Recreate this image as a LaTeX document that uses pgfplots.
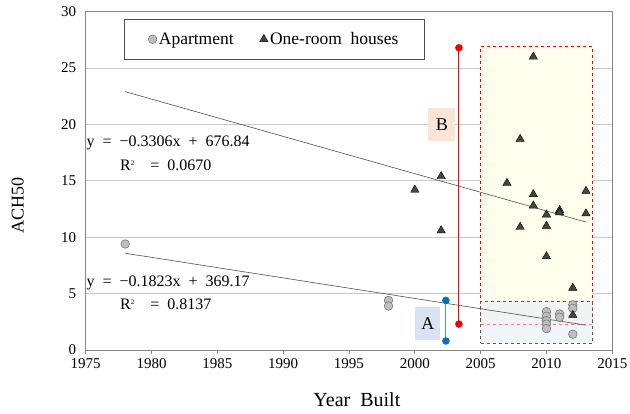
\documentclass[border=0pt]{standalone}
\usepackage{fontspec}
\setmainfont{Liberation Serif}
\usepackage{pgfplots}
\pgfplotsset{compat=1.18}
\definecolor{gridc}{RGB}{200,200,200}
\definecolor{axisc}{RGB}{134,134,134}
\definecolor{trend}{RGB}{80,80,80}
\definecolor{aptfill}{RGB}{190,190,190}
\definecolor{aptdraw}{RGB}{120,120,120}
\definecolor{tri}{RGB}{70,70,60}
\definecolor{yelfill}{RGB}{255,255,238}
\definecolor{bluefill}{RGB}{228,236,250}
\definecolor{myblue}{RGB}{0,112,192}
\definecolor{bluel}{RGB}{80,150,215}
\definecolor{myred}{RGB}{240,0,0}
\definecolor{labA}{RGB}{218,227,243}
\definecolor{labB}{RGB}{251,229,214}
\begin{document}
\begin{tikzpicture}
\path[use as bounding box] (0,0) rectangle (630pt,414pt);
\begin{axis}[
  at={(85.7pt,64pt)}, anchor=south west,
  width=526.6pt, height=338.3pt, scale only axis,
  xmin=1975, xmax=2015, ymin=0, ymax=30,
  xtick={1975,1980,...,2015}, ytick={0,5,...,30},
  ymajorgrids, grid style={gridc, line width=0.8pt},
  axis line style={axisc, line width=0.8pt},
  xtick pos=bottom, ytick pos=left,
  tick align=outside, major tick length=4pt,
  x tick style={axisc, line width=0.8pt}, y tick style={draw=none},
  /pgf/number format/assume math mode=true,
  /pgf/number format/1000 sep={},
  xticklabel style={font=\fontsize{15}{17}\selectfont, yshift=-1pt},
  yticklabel style={font=\fontsize{15}{17}\selectfont, xshift=-2pt},
  xlabel={Year\ \ Built},
  xlabel style={font=\fontsize{20}{23}\selectfont, at={(axis description cs:0.515,-0.148)}, anchor=center},
  ylabel={ACH50},
  ylabel style={font=\fontsize{18}{21}\selectfont, at={(axis description cs:-0.129,0.426)}, anchor=center},
  clip=false,
  legend columns=2,
  legend style={at={(rel axis cs:0.0727,0.978)}, anchor=north west,
    draw=black!70, line width=0.6pt, font=\fontsize{17.5}{19}\selectfont,
    inner xsep=24pt, inner ysep=11pt,
    /tikz/every even column/.append style={column sep=24pt}},
  legend image code/.code={\draw[#1] plot coordinates {(0.1cm,0cm)};},
]
% highlight boxes
\addplot[forget plot, draw=red, dashed, line width=0.5pt, fill=yelfill]
  coordinates {(2005,2.3) (2013.5,2.3) (2013.5,26.9) (2005,26.9) (2005,2.3)};
\addplot[forget plot, draw=none, fill=bluefill, fill opacity=0.55]
  coordinates {(2005,0.6) (2013.5,0.6) (2013.5,4.3) (2005,4.3) (2005,0.6)};
\addplot[forget plot, draw=black!65, dashed, line width=0.7pt]
  coordinates {(2005,0.6) (2013.5,0.6) (2013.5,4.3) (2005,4.3) (2005,0.6)};
% trend lines
\addplot[forget plot, draw=trend, line width=0.6pt] coordinates {(1978,22.91) (2013,11.34)};
\addplot[forget plot, draw=trend, line width=0.6pt] coordinates {(1978,8.58) (2013,2.20)};
% markers A, B
\addplot[forget plot, draw=red, line width=0.9pt, no markers] coordinates {(2003.35,26.8) (2003.35,2.3)};
\addplot[forget plot, only marks, mark=*, mark size=3.5pt, mark options={fill=myred, draw=myred}] coordinates {(2003.35,26.8) (2003.35,2.3)};
\addplot[forget plot, draw=bluel, line width=0.9pt, no markers] coordinates {(2002.36,4.4) (2002.36,0.8)};
\addplot[forget plot, only marks, mark=*, mark size=3.5pt, mark options={fill=myblue, draw=myblue}] coordinates {(2002.36,4.4) (2002.36,0.8)};
% data
\addplot[only marks, mark=*, mark size=4.3pt, mark options={fill=aptfill, draw=aptdraw, line width=0.6pt}]
  coordinates {(1978,9.4) (1998,4.4) (1998,3.9) (2010,3.4) (2010,3.0) (2010,2.6) (2010,2.3) (2010,1.9)
  (2011,3.2) (2011,2.9) (2012,4.0) (2012,3.7) (2012,1.4)};
\addlegendentry{Apartment}
\addplot[only marks, mark=triangle*, mark size=4.8pt, mark options={fill=tri, draw=black, line width=0.4pt}]
  coordinates {(2000,14.2) (2002,15.4) (2002,10.6) (2007,14.8) (2008,18.7) (2008,10.9) (2009,26.0)
  (2009,13.8) (2009,12.8) (2010,12.0) (2010,11.0) (2010,8.3) (2011,12.4) (2011,12.2)
  (2012,5.5) (2012,3.1) (2013,14.1) (2013,12.1)};
\addlegendentry{One-room\ \ houses}
% labels
\node[fill=labA, minimum width=25pt, minimum height=33pt, inner sep=0pt, font=\fontsize{18}{20}\selectfont] at (axis cs:2001,2.36) {A};
\node[fill=labB, minimum width=27pt, minimum height=33pt, inner sep=0pt, font=\fontsize{18}{20}\selectfont] at (axis cs:2002.05,20.0) {B};
% equations
\node[anchor=west, inner sep=0pt, font=\fontsize{16}{18}\selectfont] at (axis cs:1975.05,18.35) {y\ \ =\ \ −0.3306x\ \ +\ \ 676.84};
\node[anchor=west, inner sep=0pt, font=\fontsize{16}{18}\selectfont] at (axis cs:1977.6,16.4) {R\raisebox{5pt}{\fontsize{7}{7}\selectfont 2}\ \ \ \ =\ \ 0.0670};
\node[anchor=west, inner sep=0pt, font=\fontsize{16}{18}\selectfont] at (axis cs:1975.05,5.94) {y\ \ =\ \ −0.1823x\ \ +\ \ 369.17};
\node[anchor=west, inner sep=0pt, font=\fontsize{16}{18}\selectfont] at (axis cs:1977.6,4.08) {R\raisebox{5pt}{\fontsize{7}{7}\selectfont 2}\ \ \ \ =\ \ 0.8137};
\end{axis}
\end{tikzpicture}
\end{document}
